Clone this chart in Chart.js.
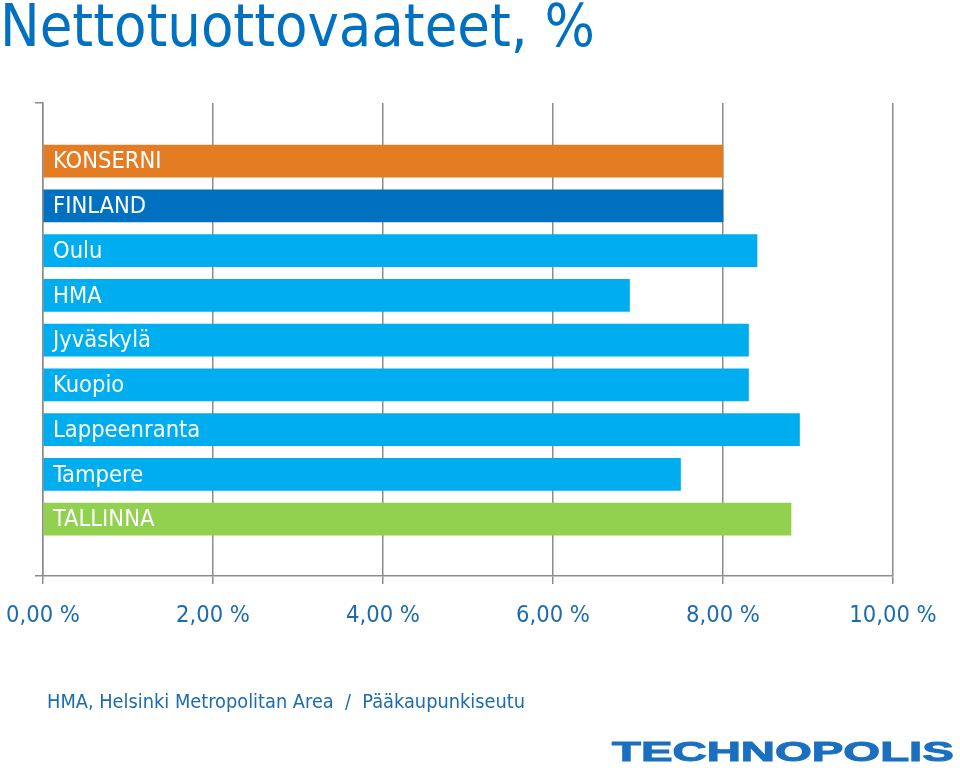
<!DOCTYPE html>
<html>
<head>
<meta charset="utf-8">
<script src="https://cdn.jsdelivr.net/npm/chart.js@4"></script>
<style>
  html, body { margin: 0; padding: 0; background: #fff; }
  #wrap { position: relative; width: 960px; height: 773px; overflow: hidden; }
  #title { position: absolute; left: 0; top: -9px; font-family: "DejaVu Sans Condensed", "DejaVu Sans", sans-serif;
           font-size: 59px; color: #0070C0; white-space: nowrap; }
  #note { position: absolute; left: 47px; top: 690px; font-family: "DejaVu Sans Condensed", "DejaVu Sans", sans-serif;
          font-size: 19.8px; color: #1B6BB0; white-space: pre; }
  #logo { position: absolute; left: 612px; top: 738px; font-family: "Liberation Sans", Arial, sans-serif; font-weight: bold;
          font-size: 28px; line-height: 28px; color: #1A6FC0; white-space: nowrap; transform-origin: 0 0; transform: scaleX(1.69);
          -webkit-text-stroke: 1px #1A6FC0; }
  canvas { position: absolute; left: 0; top: 0; }
</style>
</head>
<body>
<div id="wrap">
  <canvas id="chart" width="960" height="773"></canvas>
  <div id="title">Nettotuottovaateet, %</div>
  <div id="note">HMA, Helsinki Metropolitan Area  /  Pääkaupunkiseutu</div>
  <div id="logo">TECHNOPOLIS</div>
</div>
<script>
// data
var categories = ['KONSERNI', 'FINLAND', 'Oulu', 'HMA', 'Jyväskylä', 'Kuopio', 'Lappeenranta', 'Tampere', 'TALLINNA'];
var values = [8.0, 8.0, 8.4, 6.9, 8.3, 8.3, 8.9, 7.5, 8.8];
var barColors = ['#E47C23', '#0070C0', '#00AEEF', '#00AEEF', '#00AEEF', '#00AEEF', '#00AEEF', '#00AEEF', '#92D050'];
var xTicks = [0, 2, 4, 6, 8, 10];
var tickLabels = ['0,00 %', '2,00 %', '4,00 %', '6,00 %', '8,00 %', '10,00 %'];

var font = '"DejaVu Sans Condensed", "DejaVu Sans", sans-serif';
var gridGrey = '#8C8C8C';

// labels written inside the bars, left aligned
var barLabels = {
    id: 'barLabels',
    afterDatasetsDraw: function(chart) {
        var ctx = chart.ctx;
        var meta = chart.getDatasetMeta(0);
        ctx.save();
        ctx.font = '23.5px ' + font;
        ctx.fillStyle = '#ffffff';
        ctx.textAlign = 'left';
        ctx.textBaseline = 'middle';
        meta.data.forEach(function(bar, i) {
            ctx.fillText(categories[i], chart.chartArea.left + 10, bar.y + 1);
        });
        ctx.restore();
    }
};

var points = values.map(function(v, i) { return { x: v, y: i }; });

new Chart(document.getElementById('chart').getContext('2d'), {
    type: 'bar',
    data: {
        datasets: [{
            data: points,
            backgroundColor: barColors,
            borderWidth: 0,
            barThickness: 32
        }]
    },
    options: {
        indexAxis: 'y',
        responsive: false,
        animation: false,
        layout: { padding: { left: 35, top: 103, right: 67, bottom: 137 } },
        plugins: { legend: { display: false }, tooltip: { enabled: false }, title: { display: false } },
        scales: {
            x: {
                type: 'linear',
                min: 0,
                max: 10,
                afterBuildTicks: function(scale) {
                    scale.ticks = xTicks.map(function(v) { return { value: v }; });
                },
                afterFit: function(scale) {
                    scale.height = 60;
                    scale.paddingLeft = 0;
                    scale.paddingRight = 0;
                },
                grid: { color: gridGrey, lineWidth: 1.5, tickLength: 8 },
                border: { color: gridGrey, width: 1.5 },
                ticks: {
                    padding: 18,
                    color: '#1B6BB0',
                    font: { family: font, size: 23.5 },
                    callback: function(value, index) { return tickLabels[index]; }
                }
            },
            y: {
                type: 'linear',
                reverse: true,
                offset: false,
                min: -1.3,
                max: 9.27,
                afterBuildTicks: function(scale) {
                    scale.ticks = [{ value: scale.min }, { value: scale.max }];
                },
                afterFit: function(scale) { scale.width = 8; },
                grid: { offset: false, drawOnChartArea: false, color: gridGrey, lineWidth: 1.5, tickLength: 8 },
                border: { color: gridGrey, width: 1.5 },
                ticks: { display: false }
            }
        }
    },
    plugins: [barLabels]
});
</script>
</body>
</html>
